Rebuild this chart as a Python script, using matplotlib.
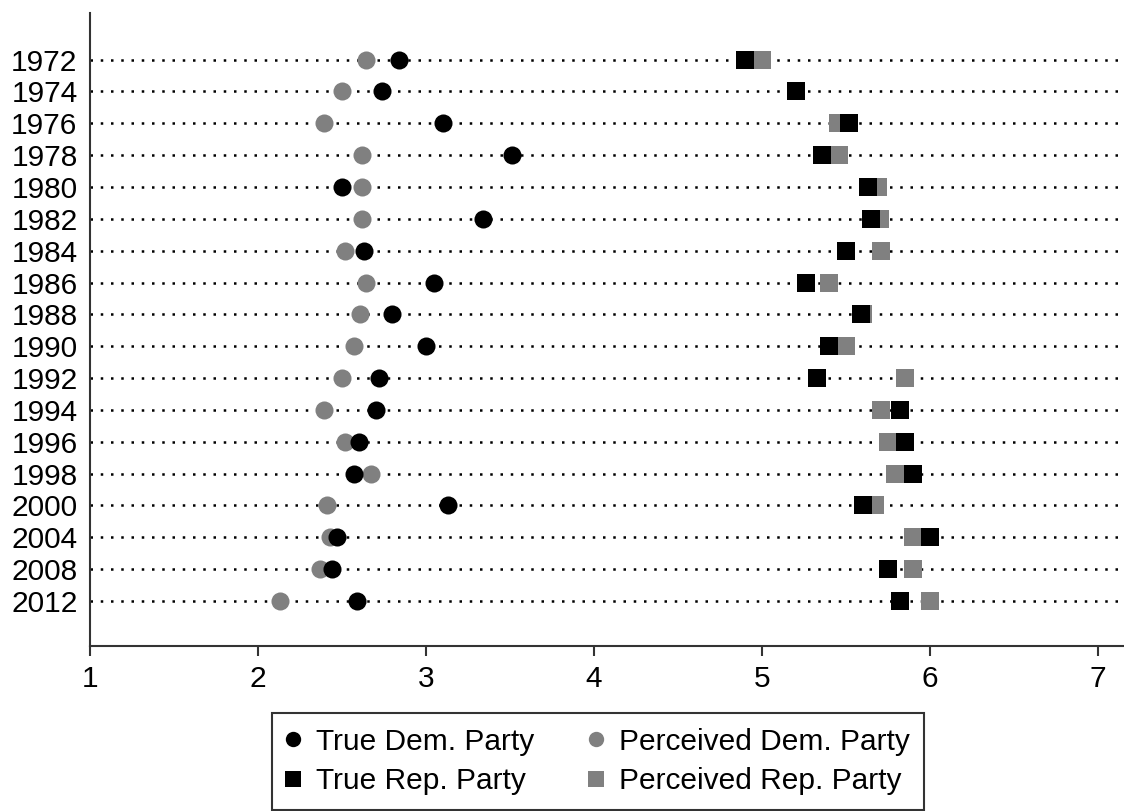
import numpy as np
import matplotlib.pyplot as plt
from matplotlib.lines import Line2D

plt.rcParams['font.family'] = ['Liberation Sans', 'DejaVu Sans']

years = ["1972", "1974", "1976", "1978", "1980", "1982", "1984", "1986", "1988",
         "1990", "1992", "1994", "1996", "1998", "2000", "2004", "2008", "2012"]

true_dem = [2.84, 2.74, 3.10, 3.51, 2.50, 3.34, 2.63, 3.05, 2.80,
            3.00, 2.72, 2.70, 2.60, 2.57, 3.13, 2.47, 2.44, 2.59]
perc_dem = [2.64, 2.50, 2.39, 2.62, 2.62, 2.62, 2.52, 2.64, 2.61,
            2.57, 2.50, 2.39, 2.52, 2.67, 2.41, 2.43, 2.37, 2.13]
true_rep = [4.90, 5.20, 5.52, 5.36, 5.63, 5.65, 5.50, 5.26, 5.59,
            5.40, 5.33, 5.82, 5.85, 5.90, 5.60, 6.00, 5.75, 5.82]
perc_rep = [5.00, 5.20, 5.45, 5.46, 5.69, 5.70, 5.71, 5.40, 5.60,
            5.50, 5.85, 5.71, 5.75, 5.79, 5.67, 5.90, 5.90, 6.00]

gray = "#808080"
ms = 13
ypos = np.arange(len(years))

fig = plt.figure(figsize=(11.24, 8.11), dpi=100)
ax = fig.add_axes([0.0801, 0.2035, 0.9199, 0.781])

# perceived first so the true markers sit on top
ax.plot(perc_dem, ypos, "o", color=gray, ms=ms, mew=0, zorder=3)
ax.plot(perc_rep, ypos, "s", color=gray, ms=ms, mew=0, zorder=3)
ax.plot(true_dem, ypos, "o", color="black", ms=ms, mew=0, zorder=4)
ax.plot(true_rep, ypos, "s", color="black", ms=ms, mew=0, zorder=4)

ax.set_yticks(ypos)
ax.set_yticklabels(years)
ax.set_ylim(17 + 1.414, -1.477)
ax.set_xlim(1, 7.155)
ax.set_xticks(range(1, 8))

ax.yaxis.grid(True, linestyle=(0, (1, 3.1)), linewidth=1.8, color="black")
ax.set_axisbelow(True)

for s in ["top", "right"]:
    ax.spines[s].set_visible(False)
for s in ["left", "bottom"]:
    ax.spines[s].set_color("#333333")
    ax.spines[s].set_linewidth(1.5)

ax.tick_params(axis="y", length=0, pad=9, labelsize=21.5)
ax.tick_params(axis="x", length=7.5, width=1.5, color="#333333", pad=6, labelsize=21.5)

handles = [
    Line2D([], [], marker="o", ls="", color="black", ms=ms, mew=0),
    Line2D([], [], marker="s", ls="", color="black", ms=ms, mew=0),
    Line2D([], [], marker="o", ls="", color=gray, ms=ms, mew=0),
    Line2D([], [], marker="s", ls="", color=gray, ms=ms, mew=0),
]
labels = ["True Dem. Party", "True Rep. Party",
          "Perceived Dem. Party", "Perceived Rep. Party"]
leg = fig.legend(handles, labels, ncol=2, loc="upper left",
                 bbox_to_anchor=(272 / 1124, 1 - 713 / 811), borderaxespad=0,
                 fontsize=21.5, frameon=True,
                 fancybox=False, edgecolor="black", markerscale=0.85,
                 handlelength=0.4, handletextpad=0.57, columnspacing=1.86,
                 borderpad=0.5, labelspacing=0.38)
leg.get_frame().set_linewidth(1.5)

plt.savefig("out.png", dpi=100)
